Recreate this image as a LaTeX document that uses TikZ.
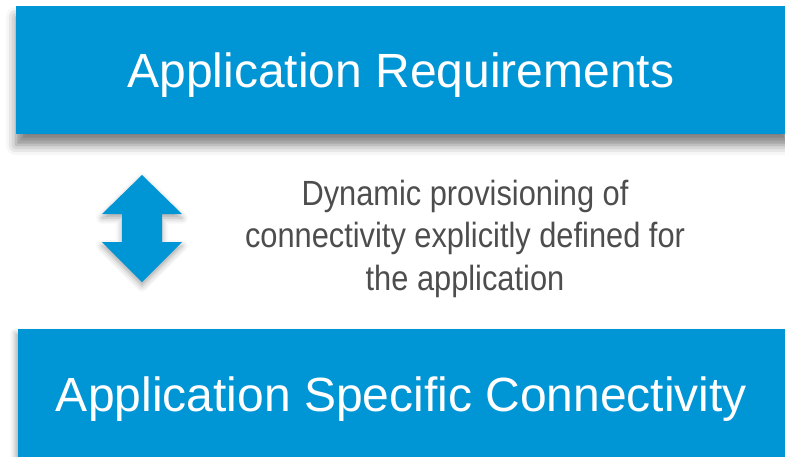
\documentclass[tikz,border=0pt]{standalone}
\usepackage{fontspec}
\setmainfont{Liberation Sans}
\newfontfamily\notefont[FakeStretch=0.88]{Liberation Sans}
\usetikzlibrary{shadows.blur}
\definecolor{bandblue}{HTML}{0096D6}
\definecolor{notegray}{HTML}{4D4D4D}
\tikzset{
  band/.style={rectangle, fill=bandblue, text=white, inner sep=0pt,
    text height=34.4pt, text depth=0pt,
    font=\fontsize{48}{58}\selectfont},
  note/.style={align=center, text=notegray, inner sep=0pt,
    font=\notefont\fontsize{35}{42.5}\selectfont},
  updown/.style={fill=bandblue,
    blur shadow={shadow xshift=0pt, shadow yshift=-4pt, shadow blur radius=6pt, shadow opacity=35}}
}
\begin{document}
\begin{tikzpicture}[x=1pt,y=-1pt]
  \useasboundingbox (0,0) rectangle (785,456);
  % requirement band, runs off the right edge
  \node[band, minimum width=775pt, minimum height=128pt,
    blur shadow={shadow xshift=0pt, shadow yshift=-11pt, shadow blur radius=10pt, shadow opacity=50}]
    (req) at (403.5,70) {\hspace*{-5pt}Application Requirements};
  % connectivity band
  \node[band, minimum width=773pt, minimum height=130pt,
    blur shadow={shadow xshift=-3pt, shadow yshift=-4pt, shadow blur radius=5pt, shadow opacity=30}]
    (conn) at (404.5,394) {\hspace*{-6pt}Application Specific Connectivity};
  % two-headed arrow between the bands
  \path[updown] (142,175) -- (182,214) -- (162,214) -- (162,242) -- (182,242)
    -- (142,282) -- (102,242) -- (122,242) -- (122,214) -- (102,214) -- cycle;
  % explanatory text
  \node[note, anchor=base] (desc) at (465,290)
    {Dynamic provisioning of\\connectivity explicitly defined for\\the application};
\end{tikzpicture}
\end{document}
